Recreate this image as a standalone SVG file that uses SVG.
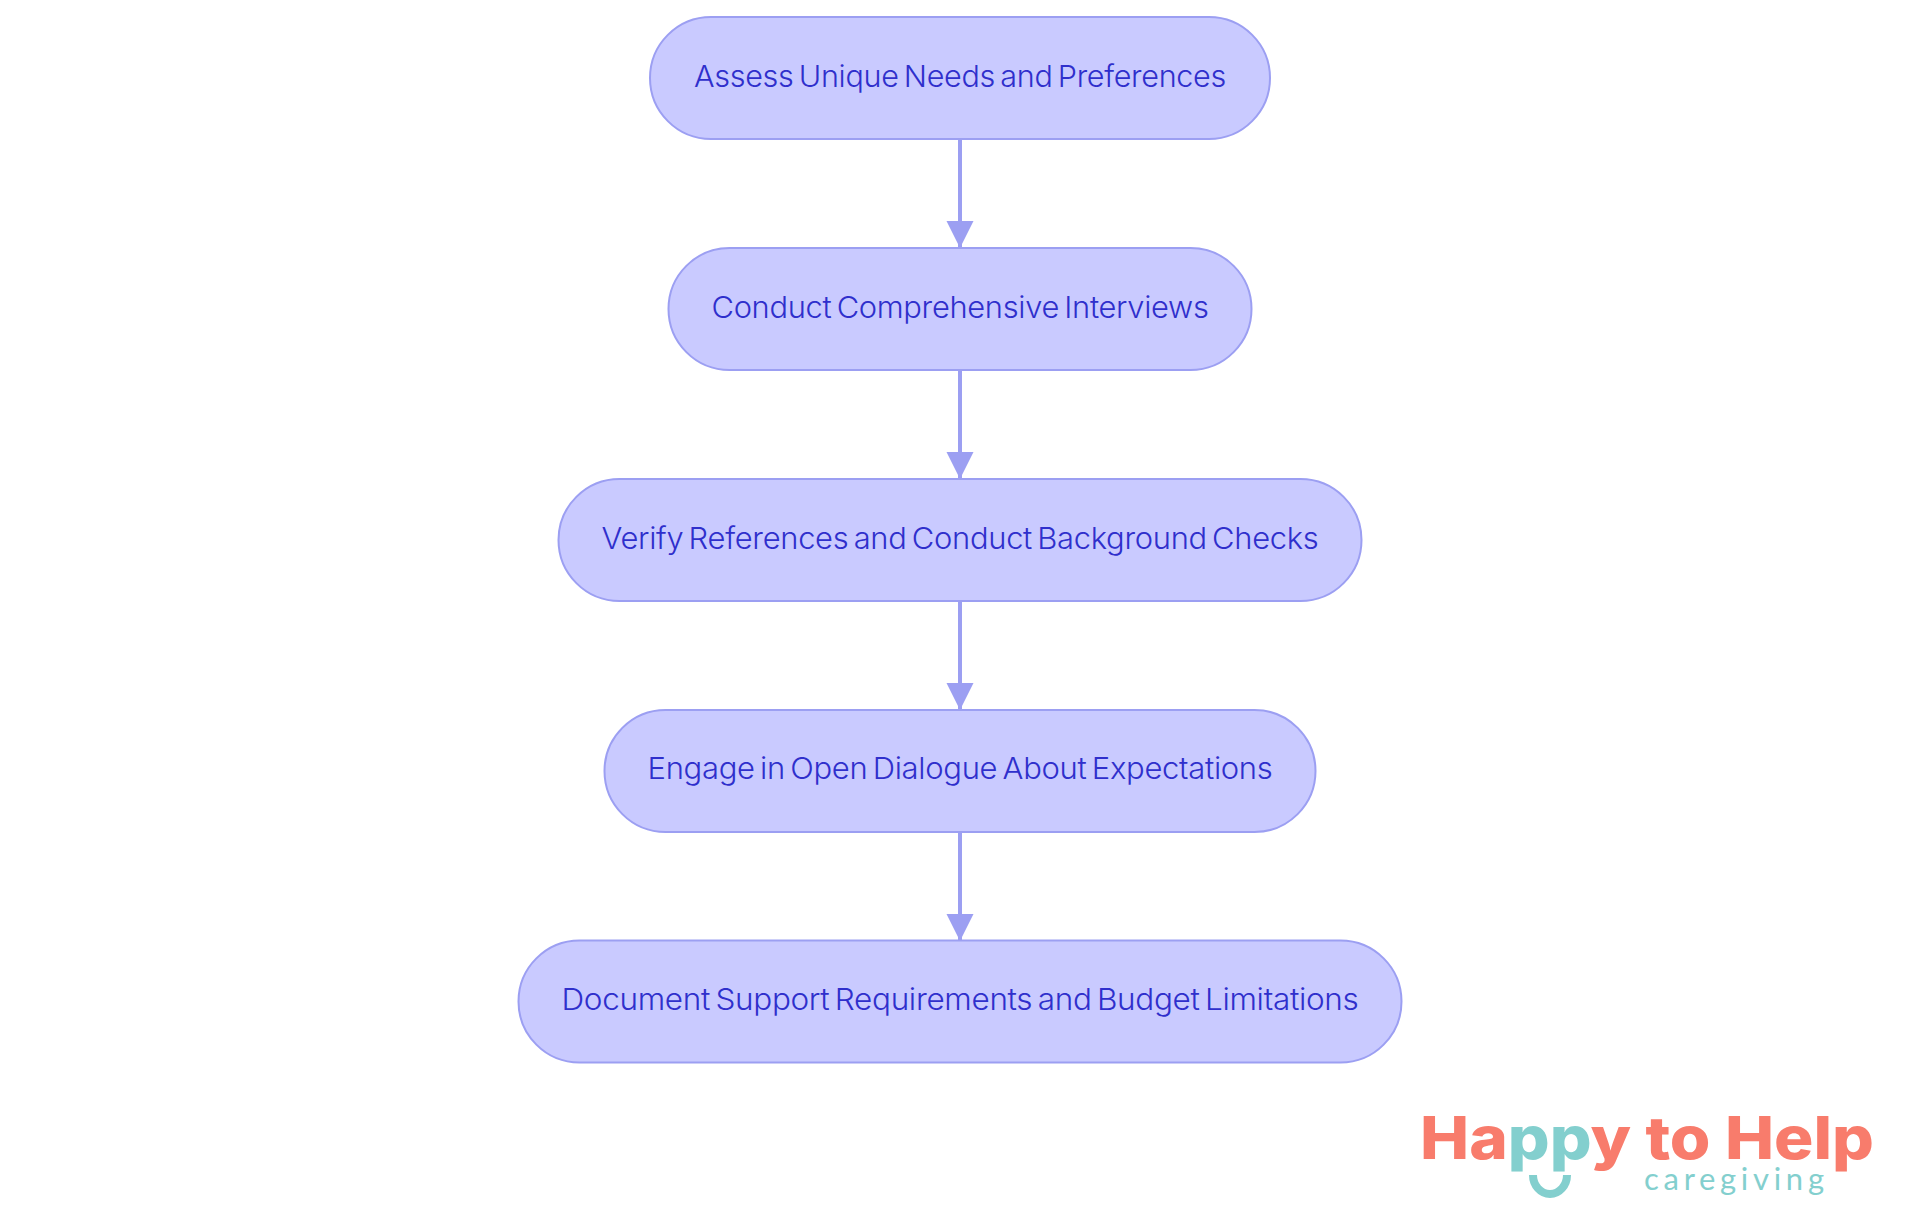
<svg xmlns="http://www.w3.org/2000/svg" width="1920" height="1215" viewBox="0 0 1920 1215">
<style>
.n{fill:#c9caff;stroke:#9c9ff2;stroke-width:2}
.t{font-family:Inter,"Noto Sans",sans-serif;font-size:30px;font-weight:350;fill:#2f2fcc;text-anchor:middle;word-spacing:-3px;letter-spacing:-.3px}
.c{stroke:#9c9ff2;stroke-width:4;fill:none}
.l{font-family:Inter,"Open Sans",sans-serif;font-weight:800;font-size:59px;fill:#f87c6c}
.g{font-family:Lato,"Open Sans",sans-serif;font-size:31px;fill:#83cfce}
</style>
<defs><marker id="a" markerUnits="userSpaceOnUse" markerWidth="28" markerHeight="28" refX="27" refY="13.500" orient="auto"><path d="M0 0L27 13.500L0 27Z" fill="#9c9ff2"/></marker></defs>
<rect width="1920" height="1215" fill="#fff"/>
<g id="connectors">
<path class="c" d="M960 139V248" marker-end="url(#a)"/>
<path class="c" d="M960 370V479" marker-end="url(#a)"/>
<path class="c" d="M960 601V710" marker-end="url(#a)"/>
<path class="c" d="M960 832V941" marker-end="url(#a)"/>
</g>
<g id="n1"><rect class="n" x="650" y="17" width="620" height="122" rx="61"/><text class="t" x="960" y="87" textLength="532" lengthAdjust="spacingAndGlyphs">Assess Unique Needs and Preferences</text></g>
<g id="n2"><rect class="n" x="668.500" y="248" width="583" height="122" rx="61"/><text class="t" x="960" y="318" textLength="497" lengthAdjust="spacingAndGlyphs">Conduct Comprehensive Interviews</text></g>
<g id="n3"><rect class="n" x="558.500" y="479" width="803" height="122" rx="61"/><text class="t" x="960" y="549" textLength="717" lengthAdjust="spacingAndGlyphs">Verify References and Conduct Background Checks</text></g>
<g id="n4"><rect class="n" x="604.500" y="710" width="711" height="122" rx="61"/><text class="t" x="960" y="779" textLength="625" lengthAdjust="spacingAndGlyphs">Engage in Open Dialogue About Expectations</text></g>
<g id="n5"><rect class="n" x="518.500" y="940.500" width="883" height="122" rx="61"/><text class="t" x="960" y="1010" textLength="797" lengthAdjust="spacingAndGlyphs">Document Support Requirements and Budget Limitations</text></g>
<g id="logo">
<text class="l" x="1420" y="1158.500" textLength="454" lengthAdjust="spacingAndGlyphs">Ha<tspan fill="#83cfce">pp</tspan>y to Help</text>
<text class="g" x="1644" y="1189.500" textLength="180" lengthAdjust="spacing">caregiving</text>
<path d="M1533 1175A17 19 0 0 0 1567 1175" fill="none" stroke="#83cfce" stroke-width="8"/>
</g>
</svg>
